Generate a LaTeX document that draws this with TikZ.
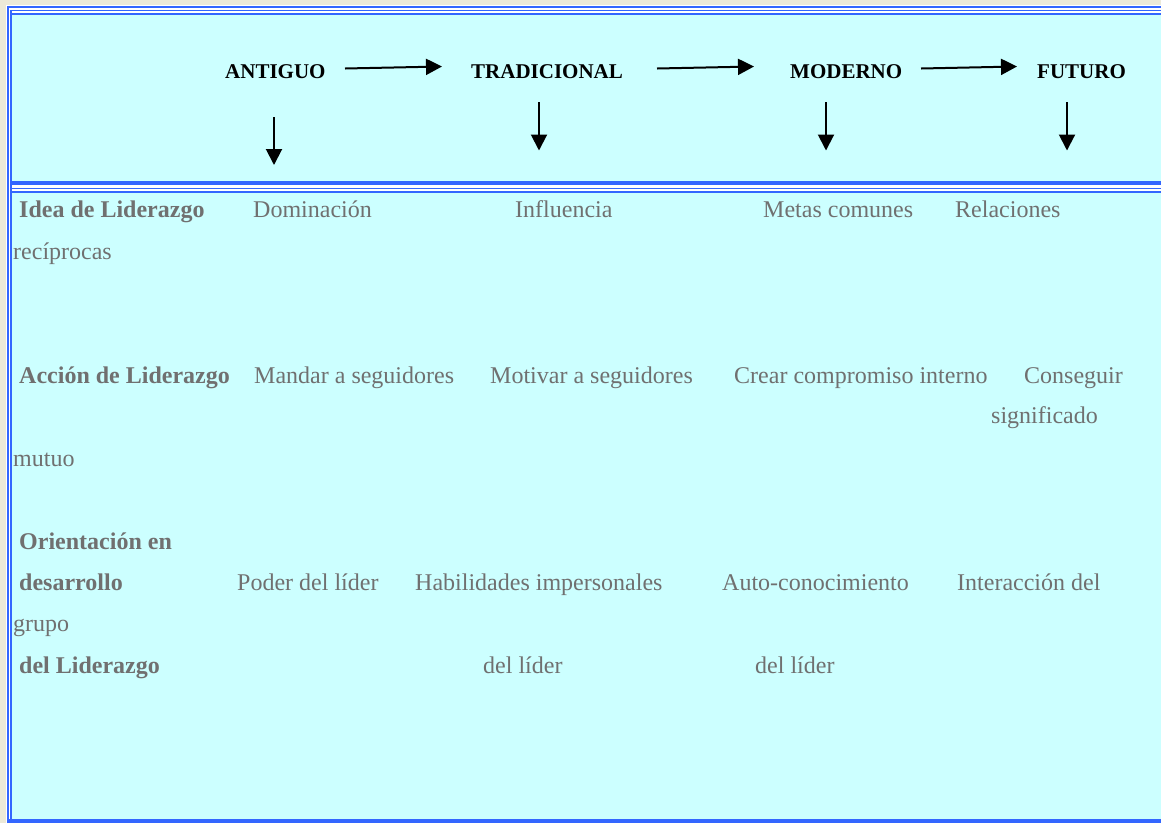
\documentclass[tikz,border=0pt]{standalone}
\usepackage{fontspec}
\setmainfont{Liberation Serif}
\usetikzlibrary{arrows.meta}
\definecolor{fondo}{RGB}{204,255,255}
\definecolor{borde}{RGB}{51,102,255}
\definecolor{texto}{RGB}{112,112,112}
\definecolor{pagina}{RGB}{236,233,216}

\begin{document}
\begin{tikzpicture}[x=1pt,y=-1pt,>={Triangle[length=16pt,width=16pt]},
  era/.style={anchor=base west,inner sep=0pt,font=\fontsize{21}{25}\selectfont\bfseries},
  rotulo/.style={anchor=base west,inner sep=0pt,text=texto,font=\fontsize{24}{28}\selectfont\bfseries},
  celda/.style={anchor=base west,inner sep=0pt,text=texto,font=\fontsize{24}{28}\selectfont},
  flecha/.style={->,line width=2pt}]
  \useasboundingbox (0,0) rectangle (1161,823);
  % fondo y bordes de la tabla
  \fill[pagina] (0,0) rectangle (1161,823);
  \fill[white] (6,5) rectangle (1161,823);
  \fill[fondo] (11.5,14.5) rectangle (1161,819);
  \fill[white] (11.5,185) rectangle (1161,190.5);
  \fill[borde] (7,6) rectangle (1161,7.5);
  \fill[borde] (7,6) rectangle (8.5,823);
  \fill[borde] (9.5,9.5) rectangle (1161,11);
  \fill[borde] (9.5,12.5) rectangle (1161,14.5);
  \fill[borde] (9.5,9.5) rectangle (11.5,823);
  \fill[borde] (9.5,181) rectangle (1161,185);
  \fill[borde] (9.5,187.5) rectangle (1161,189);
  \fill[borde] (9.5,190.5) rectangle (1161,192.5);
  \fill[borde] (7,819) rectangle (1161,823);
  % epocas
  \node[era] (antiguo) at (225,78.5) {ANTIGUO};
  \node[era] (tradicional) at (471,78.5) {TRADICIONAL};
  \node[era] (moderno) at (790,78.5) {MODERNO};
  \node[era] (futuro) at (1037,78.5) {FUTURO};
  \coordinate (h1a) at (345,68.5); \coordinate (h1b) at (442,66.5);
  \coordinate (h2a) at (657,68.5); \coordinate (h2b) at (754,66.5);
  \coordinate (h3a) at (921,68.5); \coordinate (h3b) at (1017,66.5);
  \coordinate (v1a) at (274,117); \coordinate (v1b) at (274,165);
  \coordinate (v2a) at (539,102); \coordinate (v2b) at (539,150.5);
  \coordinate (v3a) at (826,102); \coordinate (v3b) at (826,150.5);
  \coordinate (v4a) at (1067,102); \coordinate (v4b) at (1067,150.5);
  \draw[flecha] (h1a)--(h1b); \draw[flecha] (h2a)--(h2b); \draw[flecha] (h3a)--(h3b);
  \draw[flecha] (v1a)--(v1b); \draw[flecha] (v2a)--(v2b);
  \draw[flecha] (v3a)--(v3b); \draw[flecha] (v4a)--(v4b);
  % idea
  \node[rotulo] (idea) at (19,217) {Idea de Liderazgo};
  \node[celda] (dominacion) at (253,217) {Dominación};
  \node[celda] (influencia) at (515,217) {Influencia};
  \node[celda] (metas) at (763,217) {Metas comunes};
  \node[celda] (relaciones) at (955,217) {Relaciones};
  \node[celda] (reciprocas) at (13,259) {recíprocas};
  % accion
  \node[rotulo] (accion) at (19,383.5) {Acción de Liderazgo};
  \node[celda] (mandar) at (254,383.5) {Mandar a seguidores};
  \node[celda] (motivar) at (490,383.5) {Motivar a seguidores};
  \node[celda] (crear) at (734,383.5) {Crear compromiso interno};
  \node[celda] (conseguir) at (1024,383.5) {Conseguir};
  \node[celda] (significado) at (991,423.5) {significado};
  \node[celda] (mutuo) at (13,466) {mutuo};
  % orientacion
  \node[rotulo] (orientacion) at (19,549) {Orientación en};
  \node[rotulo] (desarrollo) at (19,590) {desarrollo};
  \node[celda] (poder) at (237,590) {Poder del líder};
  \node[celda] (habilidades) at (415,590) {Habilidades impersonales};
  \node[celda] (auto) at (722,590) {Auto-conocimiento};
  \node[celda] (interaccion) at (957,590) {Interacción del};
  \node[celda] (grupo) at (13,631) {grupo};
  \node[rotulo] (delliderazgo) at (19,673) {del Liderazgo};
  \node[celda] (dellider1) at (483,673) {del líder};
  \node[celda] (dellider2) at (755,673) {del líder};
\end{tikzpicture}
\end{document}
